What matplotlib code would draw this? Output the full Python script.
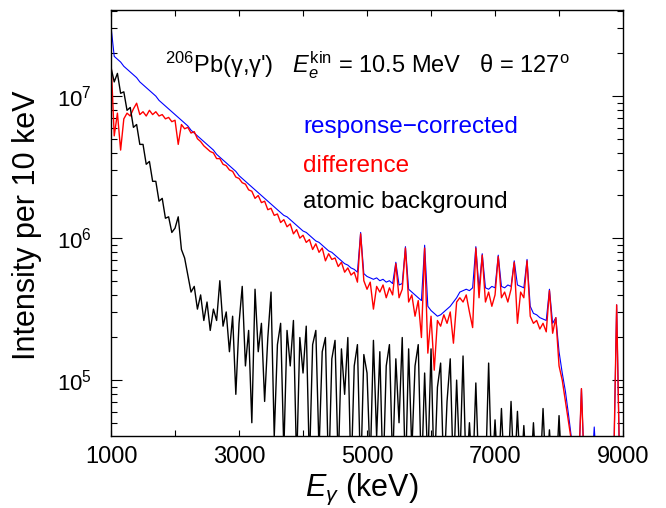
import numpy as np
import matplotlib
matplotlib.use("Agg")
import matplotlib.pyplot as plt
from matplotlib.ticker import MultipleLocator, LogLocator, NullFormatter

plt.rcParams['font.family'] = ['Liberation Sans', 'DejaVu Sans']
plt.rcParams['mathtext.fontset'] = 'custom'
plt.rcParams['mathtext.rm'] = 'Liberation Sans'
plt.rcParams['mathtext.it'] = 'Liberation Sans:italic'
plt.rcParams['mathtext.bf'] = 'Liberation Sans:bold'

# gamma energy bins (keV), 50 keV apart
energy = np.arange(1000, 9001, 50)
xtick_values = [1000, 3000, 5000, 7000, 9000]

# log10 of intensity per 10 keV
log_response = [
    7.49, 7.28, 7.26, 7.24, 7.21, 7.19, 7.17, 7.15, 7.13, 7.10,
    7.08, 7.06, 7.04, 7.02, 7.00, 6.97, 6.95, 6.93, 6.91, 6.89,
    6.87, 6.85, 6.83, 6.81, 6.79, 6.76, 6.74, 6.72, 6.70, 6.68,
    6.66, 6.64, 6.62, 6.59, 6.57, 6.55, 6.53, 6.51, 6.49, 6.47,
    6.44, 6.42, 6.40, 6.38, 6.36, 6.34, 6.32, 6.30, 6.28, 6.26,
    6.24, 6.22, 6.20, 6.18, 6.16, 6.15, 6.13, 6.11, 6.09, 6.07,
    6.05, 6.04, 6.02, 6.00, 5.98, 5.97, 5.95, 5.93, 5.91, 5.90,
    5.88, 5.86, 5.84, 5.82, 5.81, 5.79, 5.78, 5.76, 6.04, 5.75,
    5.73, 5.72, 5.71, 5.72, 5.70, 5.71, 5.69, 5.70, 5.68, 5.83,
    5.67, 5.68, 5.94, 5.64, 5.62, 5.60, 5.58, 5.56, 5.95, 5.52,
    5.49, 5.47, 5.45, 5.46, 5.48, 5.50, 5.52, 5.55, 5.58, 5.62,
    5.63, 5.64, 5.63, 5.65, 5.94, 5.64, 5.89, 5.65, 5.64, 5.66,
    5.65, 5.88, 5.66, 5.65, 5.67, 5.66, 5.84, 5.67, 5.66, 5.65,
    5.85, 5.52, 5.47, 5.46, 5.44, 5.43, 5.42, 5.64, 5.40, 5.44,
    5.20, 5.05, 4.92, 4.75, 4.57, 4.30, 4.30, 4.94, 4.30, 4.30,
    4.30, 4.67, 4.30, 4.30, 4.30, 4.30, 4.30, 4.30, 5.53, 4.30,
    4.30,
]

log_difference = [
    7.25, 6.72, 6.88, 6.62, 6.84, 6.88, 6.86, 6.91, 6.95, 6.87,
    6.89, 6.86, 6.90, 6.87, 6.89, 6.86, 6.87, 6.84, 6.85, 6.82,
    6.83, 6.66, 6.80, 6.77, 6.78, 6.74, 6.75, 6.70, 6.68, 6.65,
    6.63, 6.61, 6.60, 6.56, 6.56, 6.52, 6.51, 6.48, 6.47, 6.43,
    6.42, 6.39, 6.38, 6.34, 6.33, 6.28, 6.30, 6.25, 6.26, 6.20,
    6.21, 6.16, 6.17, 6.11, 6.13, 6.08, 6.10, 6.03, 6.06, 6.00,
    6.02, 5.97, 5.99, 5.92, 5.96, 5.90, 5.93, 5.84, 5.89, 5.85,
    5.86, 5.80, 5.83, 5.76, 5.79, 5.74, 5.76, 5.69, 6.03, 5.70,
    5.64, 5.69, 5.50, 5.66, 5.62, 5.67, 5.58, 5.65, 5.60, 5.82,
    5.58, 5.64, 5.93, 5.55, 5.60, 5.45, 5.56, 5.30, 5.93, 5.19,
    5.45, 5.07, 5.42, 5.38, 5.46, 5.40, 5.48, 5.26, 5.55, 5.58,
    5.55, 5.60, 5.48, 5.37, 5.93, 5.58, 5.88, 5.55, 5.62, 5.52,
    5.60, 5.87, 5.58, 5.62, 5.55, 5.64, 5.83, 5.40, 5.62, 5.58,
    5.84, 5.45, 5.40, 5.42, 5.36, 5.40, 5.34, 5.63, 5.33, 5.44,
    5.10, 5.00, 4.85, 4.70, 4.55, 4.30, 4.30, 4.94, 4.30, 4.30,
    4.30, 4.30, 4.30, 4.30, 4.30, 4.30, 4.30, 4.30, 5.53, 4.30,
    4.30,
]

log_atomic = [
    7.20, 7.10, 7.16, 7.02, 7.03, 6.90, 6.92, 6.78, 6.80, 6.66,
    6.66, 6.52, 6.54, 6.40, 6.40, 6.26, 6.28, 6.14, 6.15, 6.04,
    6.07, 6.15, 5.92, 5.86, 5.74, 5.62, 5.66, 5.50, 5.60, 5.42,
    5.55, 5.35, 5.50, 5.42, 5.70, 5.38, 5.48, 5.20, 5.45, 4.90,
    5.40, 5.66, 5.10, 5.35, 4.70, 5.64, 5.20, 5.40, 4.85, 5.30,
    5.62, 4.60, 5.25, 5.40, 4.50, 5.35, 5.10, 5.42, 4.40, 5.30,
    5.05, 5.38, 4.40, 5.25, 5.35, 4.50, 5.20, 5.30, 4.30, 5.15,
    5.28, 4.40, 5.22, 4.90, 5.30, 4.30, 5.10, 5.25, 4.30, 5.18,
    5.05, 4.40, 5.28, 4.60, 5.20, 4.30, 5.10, 5.25, 4.40, 5.15,
    4.70, 5.30, 4.30, 5.22, 4.50, 5.10, 5.25, 4.30, 5.05, 4.40,
    5.22, 4.30, 4.95, 5.12, 4.30, 4.85, 5.15, 4.30, 5.00, 4.40,
    5.17, 4.30, 4.70, 4.30, 4.98, 4.30, 4.60, 4.30, 5.12, 4.30,
    4.72, 4.30, 4.80, 4.30, 4.30, 4.85, 4.30, 4.78, 4.30, 4.68,
    4.30, 4.30, 4.70, 4.30, 4.30, 4.80, 4.30, 4.65, 4.30, 4.30,
    4.75, 4.30, 4.30, 4.30, 4.30, 4.30, 4.30, 4.30, 4.30, 4.30,
    4.30, 4.30, 4.30, 4.30, 4.30, 4.30, 4.30, 4.30, 4.30, 4.30,
    4.30,
]

labels = ["response\u2212corrected", "difference", "atomic background"]
colors = ["#0000ff", "#ff0000", "#000000"]

fig = plt.figure(figsize=(6.66, 5.08), dpi=100)
ax = fig.add_axes([0.1667, 0.1417, 0.7688, 0.8386])

series = [log_response, log_difference, log_atomic]
widths = [0.8, 1.0, 1.0]
for vals, c, lw in zip(series, colors, widths):
    ax.plot(energy, 10.0 ** np.array(vals), color=c, lw=lw)

ax.set_yscale('log')
ax.set_xlim(1000, 9000)
ax.set_ylim(4.04e4, 4.04e7)

ax.set_xticks(xtick_values)
ax.xaxis.set_minor_locator(MultipleLocator(1000))
ax.yaxis.set_major_locator(LogLocator(base=10))
ax.yaxis.set_minor_locator(LogLocator(base=10, subs=np.arange(2, 10)))
ax.yaxis.set_minor_formatter(NullFormatter())

ax.tick_params(which='both', direction='in', top=True, right=True, width=0.8)
ax.tick_params(axis='x', which='both', length=4.5, labelsize=17, pad=7)
ax.tick_params(axis='y', which='major', length=8, labelsize=16, pad=14)
ax.tick_params(axis='y', which='minor', length=4)
for sp in ax.spines.values():
    sp.set_linewidth(1.0)

ax.set_xlabel(r"$E_\gamma$ (keV)", fontsize=22)
ax.xaxis.set_label_coords(0.49, -0.083)
ax.set_ylabel("Intensity per 10 keV", fontsize=22)
ax.yaxis.set_label_coords(-0.135, 0.495)

ax.text(0.1055, 0.8545,
        r"$^{206}$Pb(γ,γ')   $E_e^{\rm kin}$ = 10.5 MeV   θ = 127$^{\rm o}$",
        transform=ax.transAxes, fontsize=17, ha='left', va='baseline')

for lab, c, yb in zip(labels, colors, [0.711, 0.6197, 0.535]):
    ax.text(0.375, yb, lab, color=c, fontsize=17.5,
            transform=ax.transAxes, ha='left', va='baseline')

fig.savefig("out.png", dpi=100)
